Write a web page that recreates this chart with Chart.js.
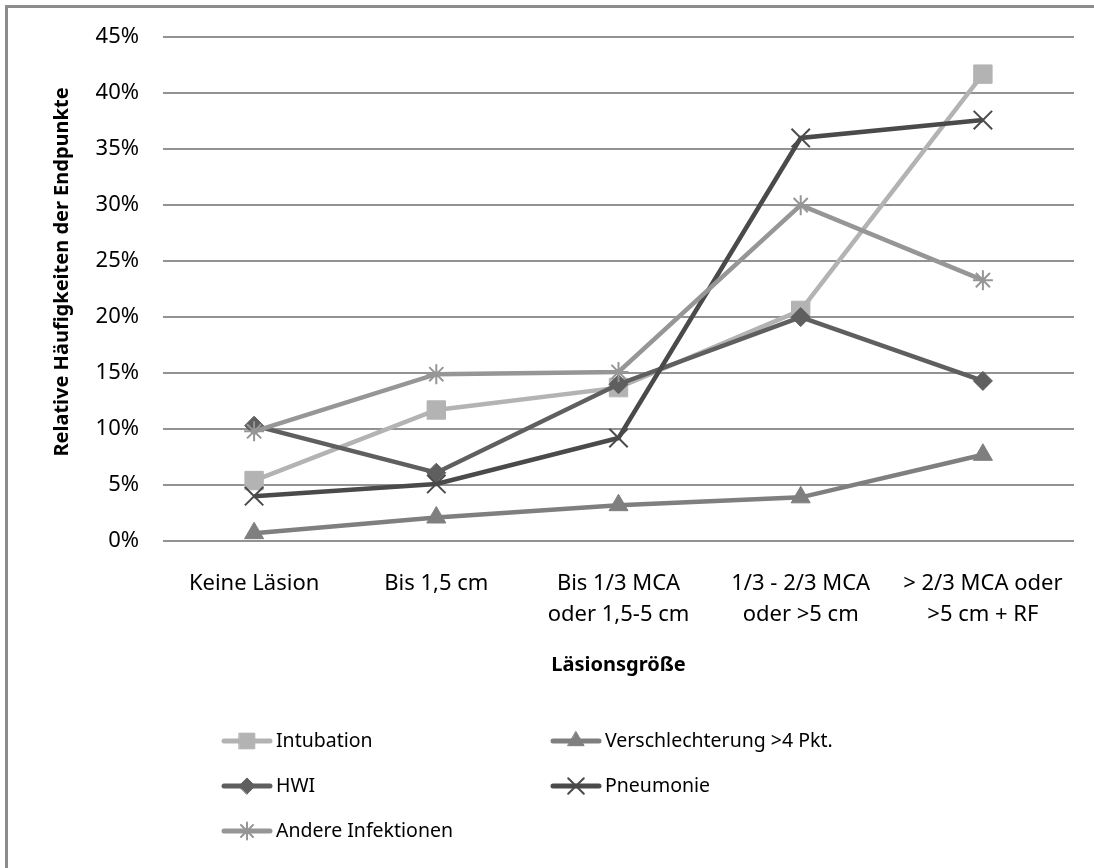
<!DOCTYPE html>
<html>
<head>
<meta charset="utf-8">
<script src="https://cdn.jsdelivr.net/npm/chart.js@4.4.1/dist/chart.umd.min.js"></script>
<style>
  html, body { margin: 0; padding: 0; background: #ffffff; }
  #wrap { position: relative; width: 1094px; height: 868px; }
</style>
</head>
<body>
<div id="wrap"><canvas id="chart"></canvas></div>
<script>
// Lesion-size categories (x axis)
const categories = [
  'Keine Läsion',
  'Bis 1,5 cm',
  ['Bis 1/3 MCA', 'oder 1,5-5 cm'],
  ['1/3 - 2/3 MCA', 'oder >5 cm'],
  ['> 2/3 MCA oder', '>5 cm + RF']
];

// Relative frequencies of the endpoints, in percent
const intubation       = [5.4, 11.7, 13.7, 20.6, 41.7];
const verschlechterung = [0.7, 2.1, 3.2, 3.9, 7.7];
const hwi              = [10.3, 6.1, 14.0, 20.0, 14.3];
const pneumonie        = [4.0, 5.1, 9.2, 36.0, 37.6];
const andere           = [9.8, 14.9, 15.1, 30.0, 23.3];

const seriesNames = ['Intubation', 'Verschlechterung >4 Pkt.', 'HWI', 'Pneumonie', 'Andere Infektionen'];

// y-axis tick values (percent)
const yTicks = [0, 5, 10, 15, 20, 25, 30, 35, 40, 45];

const FONT = "'Noto Sans', 'Open Sans', sans-serif";

const styles = [
  { color: '#b3b3b3', pointStyle: 'rect',     radius: 13,  bw: 1 },
  { color: '#7f7f7f', pointStyle: 'triangle', radius: 11,  bw: 1 },
  { color: '#5f5f5f', pointStyle: 'rectRot',  radius: 9.5, bw: 1 },
  { color: '#4a4a4a', pointStyle: 'crossRot', radius: 13,  bw: 2 },
  { color: '#969696', pointStyle: 'star',     radius: 10,  bw: 2 }
];

const values = [intubation, verschlechterung, hwi, pneumonie, andere];

const datasets = values.map((data, i) => ({
  label: seriesNames[i],
  data: data,
  borderColor: styles[i].color,
  backgroundColor: styles[i].color,
  borderWidth: 4.5,
  pointStyle: styles[i].pointStyle,
  pointRadius: styles[i].radius,
  pointHoverRadius: styles[i].radius,
  pointBackgroundColor: styles[i].color,
  pointBorderColor: styles[i].color,
  pointBorderWidth: styles[i].bw,
  tension: 0,
  order: values.length - i
}));

// Outer frame, y-axis title and the two-column legend
const decorations = {
  id: 'decorations',
  beforeDraw(chart) {
    const ctx = chart.ctx;
    ctx.save();
    ctx.fillStyle = '#ffffff';
    ctx.fillRect(0, 0, chart.width, chart.height);
    ctx.strokeStyle = '#8c8c8c';
    ctx.lineWidth = 3;
    ctx.strokeRect(6.5, 6.5, chart.width + 100, chart.height + 100);
    ctx.restore();
  },
  afterDraw(chart) {
    const ctx = chart.ctx;
    ctx.save();
    // y-axis title
    ctx.translate(62, 272);
    ctx.rotate(-Math.PI / 2);
    ctx.font = "bold 20px " + FONT;
    ctx.fillStyle = '#000000';
    ctx.textAlign = 'center';
    ctx.textBaseline = 'middle';
    ctx.fillText('Relative Häufigkeiten der Endpunkte', 0, 0);
    ctx.restore();

    // legend
    const cols = [224, 553];
    const rows = [741, 786, 831];
    ctx.save();
    ctx.font = "19.5px " + FONT;
    ctx.textBaseline = 'middle';
    ctx.textAlign = 'left';
    chart.data.datasets.forEach((ds, i) => {
      const x = cols[i % 2];
      const y = rows[Math.floor(i / 2)];
      ctx.strokeStyle = ds.borderColor;
      ctx.lineWidth = 5;
      ctx.lineCap = 'round';
      ctx.beginPath();
      ctx.moveTo(x, y);
      ctx.lineTo(x + 46, y);
      ctx.stroke();
      ctx.fillStyle = ds.pointBackgroundColor;
      ctx.strokeStyle = ds.pointBorderColor;
      ctx.lineWidth = ds.pointBorderWidth;
      Chart.helpers.drawPoint(ctx, {
        pointStyle: ds.pointStyle,
        radius: ds.pointRadius * 0.85,
        rotation: 0,
        borderWidth: ds.pointBorderWidth
      }, x + 23, y);
      ctx.fillStyle = '#000000';
      ctx.fillText(ds.label, x + 52, y);
    });
    ctx.restore();
  }
};

new Chart(document.getElementById('chart'), {
  type: 'line',
  data: { labels: categories, datasets: datasets },
  options: {
    responsive: true,
    maintainAspectRatio: false,
    animation: false,
    layout: { padding: { top: 35, right: 20, bottom: 191, left: 0 } },
    plugins: {
      legend: { display: false },
      tooltip: { enabled: false }
    },
    scales: {
      x: {
        offset: true,
        grid: { display: false, drawTicks: false },
        border: { display: false },
        ticks: {
          color: '#000000',
          font: { family: FONT, size: 22, lineHeight: 1.42 },
          maxRotation: 0,
          autoSkip: false,
          padding: 27
        },
        title: {
          display: true,
          text: 'Läsionsgröße',
          color: '#000000',
          font: { family: FONT, size: 20, weight: 'bold' },
          padding: { top: 0, bottom: 0 }
        },
        afterFit(scale) { scale.height = 136; }
      },
      y: {
        min: 0,
        max: 45,
        afterBuildTicks(scale) { scale.ticks = yTicks.map(v => ({ value: v })); },
        grid: { color: '#929292', lineWidth: 2, drawTicks: false },
        border: { display: false },
        ticks: {
          color: '#000000',
          font: { family: FONT, size: 22 },
          padding: 24,
          callback: v => v + '%'
        },
        afterFit(scale) { scale.width = 163; }
      }
    }
  },
  plugins: [decorations]
});
</script>
</body>
</html>
